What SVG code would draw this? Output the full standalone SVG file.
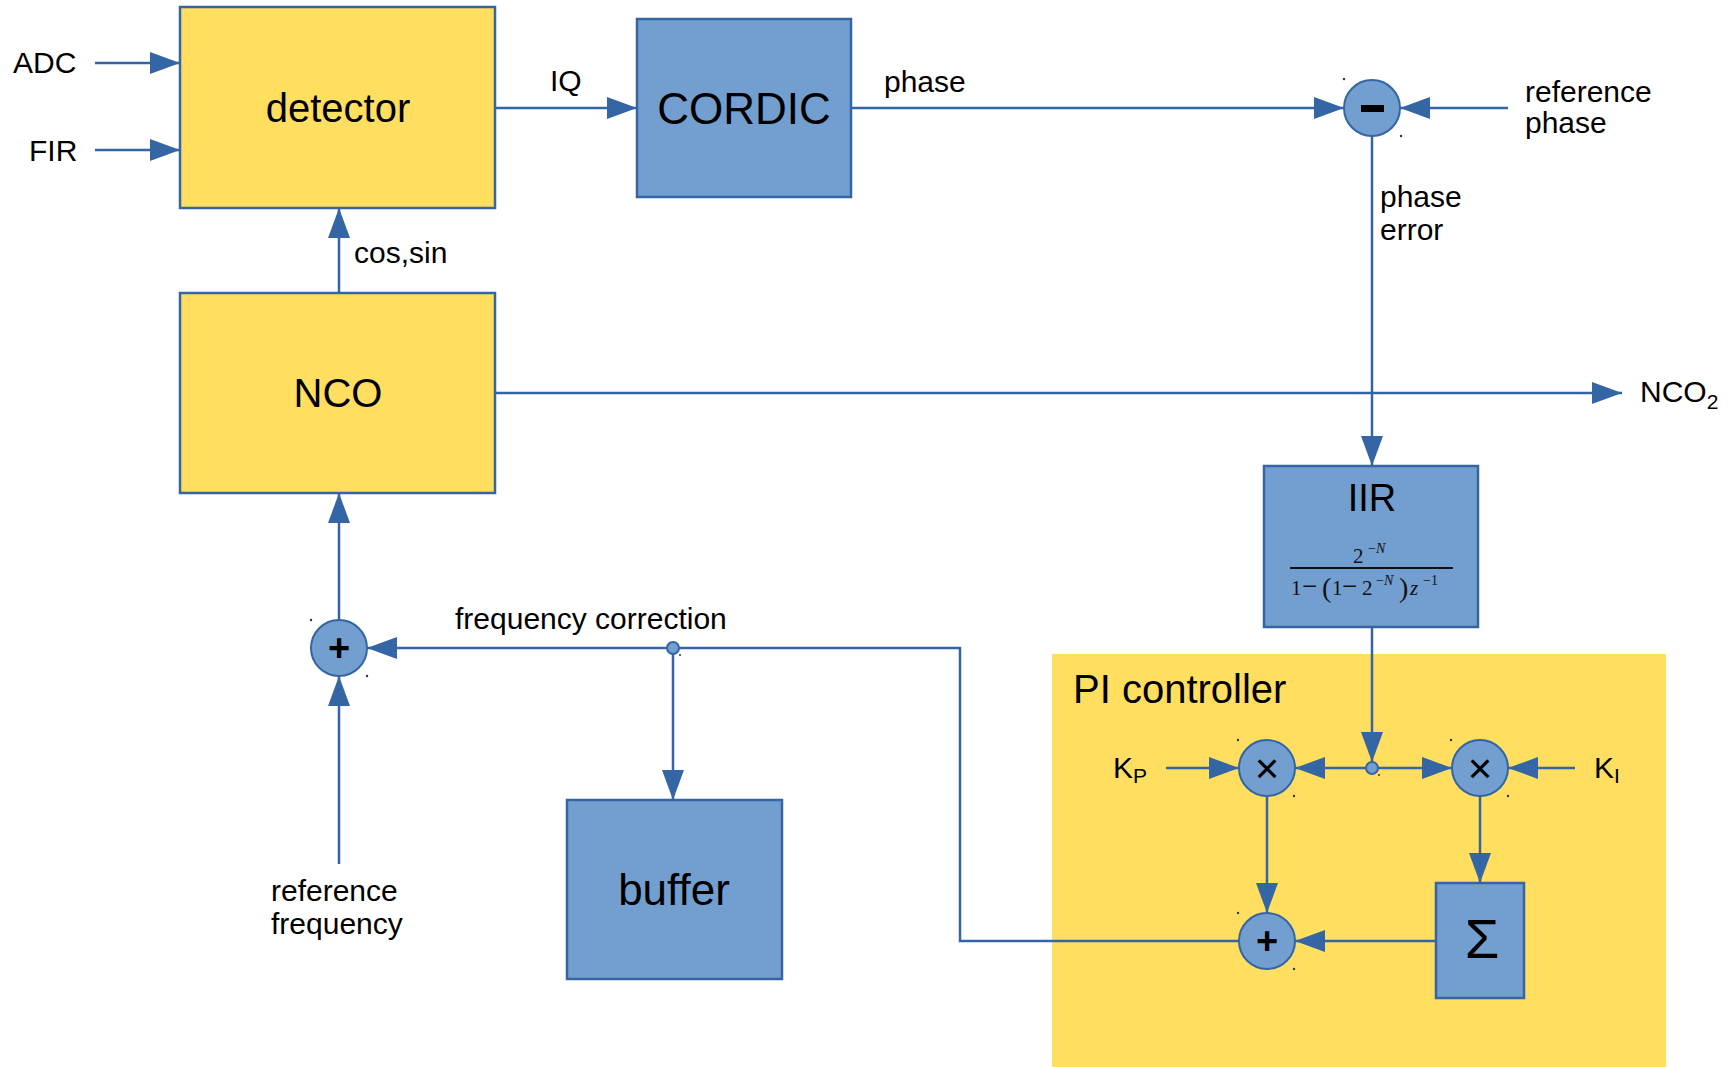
<svg xmlns="http://www.w3.org/2000/svg" width="1736" height="1067" viewBox="0 0 1736 1067">
<style>
.yb{fill:#ffde60;stroke:#3465a4;stroke-width:2.5}
.bb{fill:#729fcf;stroke:#3465a4;stroke-width:2.5}
.op{fill:#729fcf;stroke:#3465a4;stroke-width:2}
.ln{fill:none;stroke:#3465a4;stroke-width:2.5}
.ar{marker-end:url(#ah)}
.t{font-family:"Liberation Sans",Arial,sans-serif;fill:#000}
.lb{font-size:30px}
.big{font-size:40px}
.bigger{font-size:44px}
.m{font-family:"Liberation Serif","Times New Roman",serif;fill:#111;font-size:21px}
.sup{font-size:14px}
.mn{font-size:27px}
.dot{fill:#333}
.x{font-size:42px}
</style>
<defs>
<marker id="ah" markerUnits="userSpaceOnUse" markerWidth="30" markerHeight="22" refX="30" refY="11" orient="auto">
<path d="M0,0 L30,11 L0,22 z" fill="#3465a4"/>
</marker>
</defs>
<rect width="1736" height="1067" fill="#fff"/>
<g id="pi-controller">
<rect x="1052" y="654" width="614" height="420" fill="#ffde60"/>
<text class="t" x="1073" y="703" font-size="40">PI controller</text>
</g>
<g id="connectors">
<line class="ln ar" x1="95" y1="63" x2="180" y2="63"/>
<line class="ln ar" x1="95" y1="150" x2="180" y2="150"/>
<line class="ln ar" x1="495" y1="108" x2="637" y2="108"/>
<line class="ln ar" x1="851" y1="108" x2="1344" y2="108"/>
<line class="ln ar" x1="1508" y1="108" x2="1400" y2="108"/>
<line class="ln ar" x1="1372" y1="136" x2="1372" y2="466"/>
<line class="ln ar" x1="495" y1="393" x2="1622" y2="393"/>
<line class="ln ar" x1="339" y1="293" x2="339" y2="208"/>
<line class="ln ar" x1="339" y1="620" x2="339" y2="493"/>
<line class="ln ar" x1="339" y1="864" x2="339" y2="676"/>
<polyline class="ln ar" points="1239,941 960,941 960,648 367,648"/>
<line class="ln ar" x1="673" y1="648" x2="673" y2="800"/>
<line class="ln ar" x1="1372" y1="627" x2="1372" y2="762"/>
<line class="ln ar" x1="1372" y1="768" x2="1295" y2="768"/>
<line class="ln ar" x1="1372" y1="768" x2="1452" y2="768"/>
<line class="ln ar" x1="1166" y1="768" x2="1239" y2="768"/>
<line class="ln ar" x1="1575" y1="768" x2="1508" y2="768"/>
<line class="ln ar" x1="1267" y1="796" x2="1267" y2="913"/>
<line class="ln ar" x1="1480" y1="796" x2="1480" y2="883"/>
<line class="ln ar" x1="1436" y1="941" x2="1295" y2="941"/>
</g>
<g id="labels">
<text class="t lb" x="13" y="73">ADC</text>
<text class="t lb" x="29" y="161">FIR</text>
<text class="t lb" x="550" y="91">IQ</text>
<text class="t lb" x="884" y="92">phase</text>
<text class="t lb" x="354" y="263">cos,sin</text>
<text class="t lb" x="1525" y="102">reference</text>
<text class="t lb" x="1525" y="133">phase</text>
<text class="t lb" x="1380" y="207">phase</text>
<text class="t lb" x="1380" y="240">error</text>
<text class="t lb" x="1640" y="402">NCO<tspan font-size="21" dy="7">2</tspan></text>
<text class="t lb" x="455" y="629">frequency correction</text>
<text class="t lb" x="271" y="901">reference</text>
<text class="t lb" x="271" y="934">frequency</text>
<text class="t lb" x="1113" y="778">K<tspan font-size="21" dy="5">P</tspan></text>
<text class="t lb" x="1594" y="778">K<tspan font-size="21" dy="5">I</tspan></text>
</g>
<g id="detector">
<rect class="yb" x="180" y="7" width="315" height="201"/>
<text class="t big" x="338" y="122" text-anchor="middle">detector</text>
</g>
<g id="cordic">
<rect class="bb" x="637" y="19" width="214" height="178"/>
<text class="t bigger" x="744" y="124" text-anchor="middle">CORDIC</text>
</g>
<g id="subtract">
<circle class="op" cx="1372" cy="108" r="28"/>
<rect x="1361" y="105" width="23" height="7" fill="#000"/>
<circle class="dot" cx="1344" cy="79" r="1.2"/>
<circle class="dot" cx="1401" cy="136" r="1.2"/>
</g>
<g id="nco">
<rect class="yb" x="180" y="293" width="315" height="200"/>
<text class="t big" x="338" y="407" text-anchor="middle">NCO</text>
</g>
<g id="iir">
<rect class="bb" x="1264" y="466" width="214" height="161"/>
<text class="t" x="1372" y="511" font-size="38" text-anchor="middle">IIR</text>
<text class="m" y="563"><tspan x="1353">2</tspan><tspan class="sup" x="1368" dy="-10">−<tspan font-style="italic">N</tspan></tspan></text>
<line x1="1290" y1="568" x2="1453" y2="568" stroke="#111" stroke-width="2.2"/>
<text class="m" y="595"><tspan x="1291">1</tspan><tspan class="mn" x="1302">−</tspan><tspan x="1322" font-size="28" dy="2">(</tspan><tspan x="1332" dy="-2">1</tspan><tspan class="mn" x="1342">−</tspan><tspan x="1362">2</tspan><tspan class="sup" x="1376" dy="-10">−<tspan font-style="italic">N</tspan></tspan><tspan x="1399" font-size="28" dy="12">)</tspan><tspan x="1410" font-style="italic" dy="-2">z</tspan><tspan class="sup" x="1423" dy="-10">−1</tspan></text>
</g>
<g id="add-freq">
<circle class="op" cx="339" cy="648" r="28"/>
<text class="t" x="339" y="661" font-size="38" font-weight="bold" text-anchor="middle">+</text>
<circle class="dot" cx="311" cy="620" r="1.2"/>
<circle class="dot" cx="367" cy="676" r="1.2"/>
</g>
<g id="freq-junction">
<circle class="op" cx="673" cy="648" r="6"/>
<circle class="dot" cx="680" cy="655" r="1"/>
</g>
<g id="buffer">
<rect class="bb" x="567" y="800" width="215" height="179"/>
<text class="t bigger" x="674" y="905" text-anchor="middle">buffer</text>
</g>
<g id="err-junction">
<circle class="op" cx="1372" cy="768" r="6"/>
<circle class="dot" cx="1379" cy="775" r="1"/>
</g>
<g id="mult-p">
<circle class="op" cx="1267" cy="768" r="28"/>
<text class="t x" x="1267" y="783" text-anchor="middle">×</text>
<circle class="dot" cx="1238" cy="740" r="1.2"/>
<circle class="dot" cx="1294" cy="796" r="1.2"/>
</g>
<g id="mult-i">
<circle class="op" cx="1480" cy="768" r="28"/>
<text class="t x" x="1480" y="783" text-anchor="middle">×</text>
<circle class="dot" cx="1451" cy="740" r="1.2"/>
<circle class="dot" cx="1508" cy="796" r="1.2"/>
</g>
<g id="integrator">
<rect class="bb" x="1436" y="883" width="88" height="115"/>
<text class="t" x="1482" y="958" font-size="56" text-anchor="middle">Σ</text>
</g>
<g id="add-pi">
<circle class="op" cx="1267" cy="941" r="28"/>
<text class="t" x="1267" y="954" font-size="38" font-weight="bold" text-anchor="middle">+</text>
<circle class="dot" cx="1238" cy="913" r="1.2"/>
<circle class="dot" cx="1294" cy="969" r="1.2"/>
</g>
</svg>
